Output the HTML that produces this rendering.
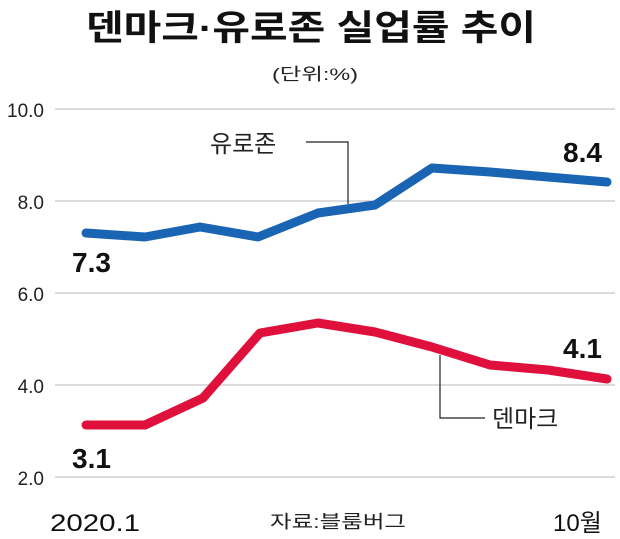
<!DOCTYPE html>
<html><head><meta charset="utf-8"><style>
body{margin:0;background:#fff;width:620px;height:539px;overflow:hidden}
svg{display:block}
text{font-family:"Liberation Sans","Noto Sans CJK KR",sans-serif}
</style></head><body>
<svg width="620" height="539" viewBox="0 0 620 539">
<text x="86" y="40" font-size="35" font-weight="bold" fill="#111" textLength="450" lengthAdjust="spacingAndGlyphs">덴마크·유로존 실업률  추이</text>
<text x="272" y="80" font-size="17" fill="#222" textLength="86" lengthAdjust="spacingAndGlyphs">(단위:%)</text>
<g stroke="#c8c8c8" stroke-width="1.2">
<line x1="55" y1="109" x2="615" y2="109"/><line x1="55" y1="201" x2="615" y2="201"/>
<line x1="55" y1="293" x2="615" y2="293"/><line x1="55" y1="385" x2="615" y2="385"/>
<line x1="55" y1="477" x2="615" y2="477"/></g>
<g font-size="19" fill="#222" text-anchor="end">
<text x="44" y="117">10.0</text><text x="44" y="209">8.0</text><text x="44" y="301">6.0</text>
<text x="44" y="393">4.0</text><text x="44" y="485">2.0</text></g>
<polyline fill="none" stroke="#1a64b4" stroke-width="9" stroke-linejoin="round" stroke-linecap="round"
points="86,233 145,237 200,227 258,237 318,213 375,205 432,168 490,172 548,177 607,182"/>
<polyline fill="none" stroke="#e0103c" stroke-width="9" stroke-linejoin="round" stroke-linecap="round"
points="86,425 145,425 203,398 260,333 318,323 375,332 432,347 490,365 548,370 607,379"/>
<polyline fill="none" stroke="#222" stroke-width="1.2" points="306,142 348,142 348,204"/>
<polyline fill="none" stroke="#222" stroke-width="1.2" points="440,355 440,418 485,418"/>
<text x="210" y="152" font-size="24" fill="#222">유로존</text>
<text x="492" y="427" font-size="24" fill="#222">덴마크</text>
<g font-size="28" font-weight="bold" fill="#111">
<text x="72" y="272">7.3</text><text x="72" y="468">3.1</text>
<text x="563" y="162">8.4</text><text x="563" y="358">4.1</text></g>
<text x="50" y="531" font-size="24" fill="#111" textLength="90" lengthAdjust="spacingAndGlyphs">2020.1</text>
<text x="553" y="531" font-size="24" fill="#111">10월</text>
<text x="270" y="528" font-size="18" fill="#222" textLength="136" lengthAdjust="spacingAndGlyphs">자료:블룸버그</text>
</svg>
</body></html>
